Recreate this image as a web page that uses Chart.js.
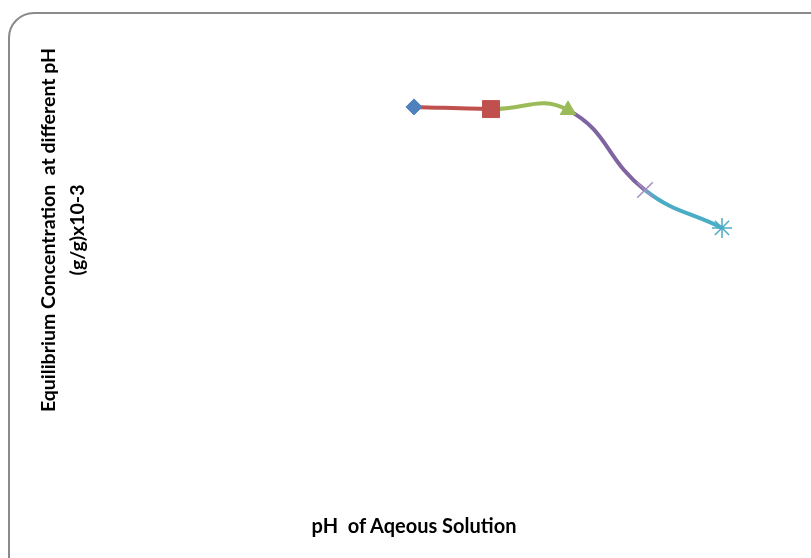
<!DOCTYPE html>
<html>
<head>
<meta charset="utf-8">
<script src="https://cdn.jsdelivr.net/npm/chart.js@4.4.0/dist/chart.umd.min.js"></script>
<style>
  html, body { margin: 0; padding: 0; background: #fff; overflow: hidden; }
  body { width: 811px; height: 558px; position: relative; font-family: Lato, "Open Sans", sans-serif; }
  .frame {
    position: absolute; left: 8px; top: 12px; width: 830px; height: 580px;
    border: 2px solid #8a8a8a; border-radius: 26px; box-sizing: border-box;
  }
  #wrap { position: absolute; left: 0; top: 0; width: 811px; height: 558px; }
  .ytitle {
    position: absolute; left: -163px; top: 201px; width: 450px; height: 58px;
    transform: rotate(-90deg); transform-origin: 50% 50%;
    text-align: center; font-weight: bold; font-size: 19.5px; line-height: 29px; color: #000;
    white-space: pre;
  }
  .xtitle {
    position: absolute; left: 214px; top: 513px; width: 400px; text-align: center;
    font-weight: bold; font-size: 20px; color: #000; white-space: pre;
  }
</style>
</head>
<body>
<div class="frame"></div>
<div id="wrap"><canvas id="myChart"></canvas></div>
<div class="ytitle">Equilibrium Concentration  at different pH
(g/g)x10-3</div>
<div class="xtitle">pH  of Aqeous Solution</div>
<script>
const phValues = [4, 5, 6, 7, 8];
const concentration = [8.48, 8.43, 8.41, 6.59, 5.73];
const markerStyles = ["rectRot", "rect", "triangle", "crossRot", "star"];
const markerColors = ["#4F81BD", "#C0504D", "#9BBB59", "#A48FC4", "#4BACC6"];
const markerSizes = [8, 12, 9, 11, 10];
const lineColors = ["#4F81BD", "#C0504D", "#9BBB59", "#8064A2", "#4BACC6"];

const ctx = document.getElementById("myChart").getContext("2d");

new Chart(ctx, {
  type: "line",
  data: {
    datasets: [
      {
        label: "Equilibrium Concentration",
        data: phValues.map((x, i) => ({ x: x, y: concentration[i] })),
        borderWidth: 4,
        tension: 0.45,
        pointStyle: markerStyles,
        pointRadius: markerSizes,
        pointBackgroundColor: markerColors,
        pointBorderColor: markerColors,
        pointBorderWidth: [1, 1, 1, 1.5, 1.5],
        segment: {
          borderColor: (c) => lineColors[c.p1DataIndex],
        },
      },
    ],
  },
  options: {
    responsive: true,
    maintainAspectRatio: false,
    animation: false,
    layout: {
      padding: { left: 106, right: 12, top: 40, bottom: 78 },
    },
    plugins: {
      legend: { display: false },
      tooltip: { enabled: false },
    },
    scales: {
      x: { type: "linear", min: 0, max: 9, display: false },
      y: { min: 0, max: 10, display: false },
    },
  },
});
</script>
</body>
</html>
